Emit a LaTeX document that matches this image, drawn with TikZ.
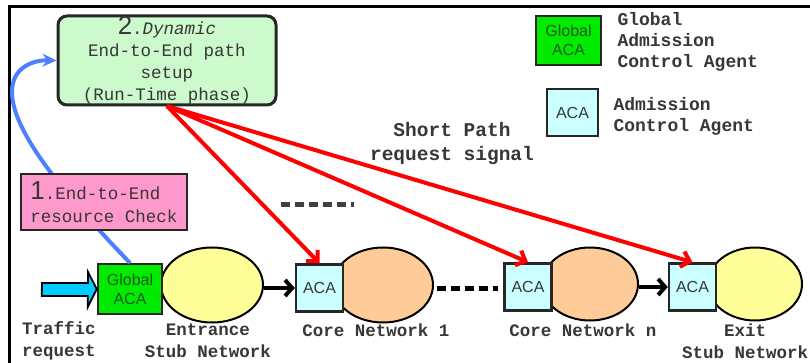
\documentclass[tikz,border=0pt]{standalone}
\usepackage{fontspec}
\setmainfont{Liberation Sans}
\newfontfamily\monof[WordSpace={1,0,0}]{Liberation Mono}
\usetikzlibrary{shapes.geometric,arrows.meta}
\definecolor{dynfill}{RGB}{204,250,204}
\definecolor{pinkfill}{RGB}{255,153,204}
\definecolor{gacafill}{RGB}{0,235,0}
\definecolor{acafill}{RGB}{204,255,255}
\definecolor{yellowfill}{RGB}{255,255,153}
\definecolor{orangefill}{RGB}{255,204,153}
\definecolor{cyanarrow}{RGB}{0,204,255}
\definecolor{bluearrow}{RGB}{77,128,255}
\definecolor{txt}{RGB}{55,55,55}
\definecolor{gacatxt}{RGB}{30,90,30}
\begin{document}
\begin{tikzpicture}[x=1pt,y=-1pt,
  gacabox/.style={draw=black!85,line width=2.5pt,fill=gacafill,minimum width=64pt,minimum height=50pt,inner sep=0pt,align=center,text=gacatxt,font=\fontsize{16}{19}\selectfont},
  acabox/.style={draw=black!85,line width=2.5pt,fill=acafill,minimum width=47pt,minimum height=47pt,inner sep=0pt,text=txt,font=\fontsize{16}{19}\selectfont},
  net/.style={ellipse,draw=black,line width=2pt,inner sep=0pt},
  lbl/.style={text=txt,align=center,font=\monof\bfseries\fontsize{17.5}{22}\selectfont},
  leg/.style={text=txt,align=left,font=\monof\bfseries\fontsize{18}{21}\selectfont,anchor=north west},
  redarrow/.style={draw=red,line width=4pt,-{Straight Barb[length=8pt,width=16pt]}},
  blackarrow/.style={draw=black,line width=4pt,-{Straight Barb[length=7pt,width=16pt]}},
  dashline/.style={line width=5pt,dash pattern=on 9pt off 5pt}
]
\clip (0,0) rectangle (810,363);
\fill[white] (0,0) rectangle (810,363);
% frame
\draw[line width=3pt] (9,375) -- (9,7) -- (820,7);

% networks
\node[net,fill=yellowfill,minimum width=102pt,minimum height=75pt] (ent) at (212,285) {};
\node[net,fill=orangefill,minimum width=100pt,minimum height=75pt] (core1) at (383,285) {};
\node[net,fill=orangefill,minimum width=96pt,minimum height=73pt] (coren) at (590,284) {};
\node[net,fill=yellowfill,minimum width=94pt,minimum height=73pt] (exit) at (755,284) {};

\node[gacabox] (gaca) at (130,289) {Global\\ACA};
\node[acabox] (aca1) at (319.5,288) {ACA};
\node[acabox] (acan) at (528,287) {ACA};
\node[acabox] (acax) at (692.5,287) {ACA};

% blue arrow (behind pink box)
\coordinate (bstart) at (130,263);
\node[draw=black!85,line width=3pt,fill=dynfill,rounded corners=9pt,minimum width=218pt,minimum height=89pt,inner sep=0pt,align=center,text=txt,font=\monof\fontsize{17.5}{22}\selectfont] (dyn) at (167,60.5)
  {{\rmfamily\fontsize{26}{22}\selectfont 2}.{\itshape Dynamic}\\End-to-End path\\setup\\(Run-Time phase)};
\draw[bluearrow,line width=4pt,-{Stealth[length=14pt,width=13pt]}]
  (bstart) .. controls (60,190) and (12,130) .. (12,92) .. controls (12,66) and (35,60) .. (dyn.west);

\node[draw=black!85,line width=2.5pt,fill=pinkfill,minimum width=166pt,minimum height=56pt,inner sep=0pt,align=left,text=txt,font=\monof\fontsize{17.5}{23}\selectfont] (chk) at (104,202)
  {{\fontsize{26}{23}\selectfont\rmfamily 1}.End-to-End\\resource Check};

% cyan fat arrow
\coordinate (trq) at (42,289.5);
\draw[fill=cyanarrow,line width=1.8pt,line join=miter]
  (trq) ++(0,-6.5) -- ++(46,0) -- ++(0,-11) -- (gaca.west) -- ++(-9,18) -- ++(0,-11) -- ++(-46,0) -- cycle;

% black arrows
\draw[blackarrow] (ent.east |- aca1.west) -- (aca1.west);
\draw[blackarrow] (coren.east |- acax.west) -- (acax.west);
\draw[dashline] (437,288) -- (498,288);
\draw[dashline,black!75] (281,205) -- (354,205);

% red arrows
\coordinate (rs) at (167,106);
\draw[redarrow] (rs) -- (aca1.north);
\draw[redarrow] (rs) -- (acan.north);
\draw[redarrow] (rs) -- (acax.north);

% labels
\node[lbl,font=\monof\bfseries\fontsize{19.5}{24}\selectfont] (sp) at (452,144) {Short Path\\request signal};
\node[lbl] (ltr) at (59,341) {Traffic\\request};
\node[lbl] (lent) at (208,341) {Entrance\\Stub Network};
\node[lbl] (lc1) at (376,330) {Core Network 1};
\node[lbl] (lcn) at (583,330) {Core Network n};
\node[lbl] (lex) at (745,341) {Exit\\Stub Network};

% legend
\node[gacabox,minimum width=65pt,minimum height=49pt] (leggaca) at (568.5,40.5) {Global\\ACA};
\node[acabox,minimum width=51pt,minimum height=47pt] (legaca) at (572.5,112.5) {ACA};
\node[leg] (lgt) at (614,9) {Global\\Admission\\Control Agent};
\node[leg] (lat) at (610,94) {Admission\\Control Agent};
\end{tikzpicture}
\end{document}
